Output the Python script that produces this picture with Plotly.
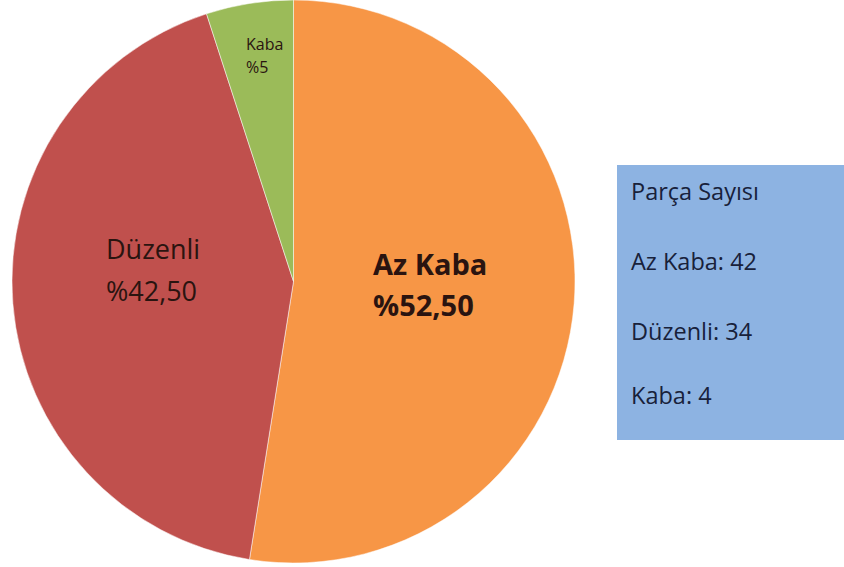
import plotly.graph_objects as go

categories = ["Az Kaba", "Düzenli", "Kaba"]
counts = [42, 34, 4]
percent_labels = ["%52,50", "%42,50", "%5"]
colors = ["#F79646", "#C0504D", "#9BBB59"]
legend_title = "Parça Sayısı"

W, H = 844, 567
fig = go.Figure()
fig.add_trace(go.Pie(
    labels=categories,
    values=counts,
    sort=False,
    direction="clockwise",
    rotation=0,
    textinfo="none",
    hoverinfo="label+percent",
    marker=dict(colors=colors, line=dict(color="white", width=0.5)),
    domain=dict(x=[12 / W, 575 / W], y=[1 - 563 / H, 1.0]),
    showlegend=False,
))

font = "Open Sans, Lato, sans-serif"
# slice labels: (left x, line1 y, line2 y, font size, bold)
label_pos = [(371, 263, 304, 29, True), (104, 249, 290, 27, False), (244, 44, 67, 16, False)]
for cat, pct, (px, y1, y2, fs, bold) in zip(categories, percent_labels, label_pos):
    for t, yy in ((cat, y1), (pct, y2)):
        fig.add_annotation(
            x=px / W, y=1 - yy / H, xref="paper", yref="paper",
            text=f"<b>{t}</b>" if bold else t, showarrow=False, align="left",
            font=dict(family=font, size=fs, color="#2a1410"),
            xanchor="left", yanchor="middle",
        )

# info box
fig.add_shape(type="rect", xref="paper", yref="paper",
              x0=617 / W, x1=1.0, y0=1 - 440 / H, y1=1 - 165 / H,
              fillcolor="#8DB3E2", line=dict(width=0), layer="below")
lines = [legend_title] + [f"{c}: {v}" for c, v in zip(categories, counts)]
ys = [191, 261, 331, 395]
for t, yy in zip(lines, ys):
    fig.add_annotation(
        x=629 / W, y=1 - yy / H, xref="paper", yref="paper",
        text=t, showarrow=False, xanchor="left", yanchor="middle",
        font=dict(family=font, size=23.5, color="#18213a"),
    )

fig.update_layout(
    width=W, height=H,
    margin=dict(l=0, r=0, t=0, b=0),
    paper_bgcolor="white", plot_bgcolor="white",
)
fig.write_html(
    "out.html",
    config={"displayModeBar": False},
    post_script="document.body.style.margin='0';document.body.style.overflow='hidden';",
)
